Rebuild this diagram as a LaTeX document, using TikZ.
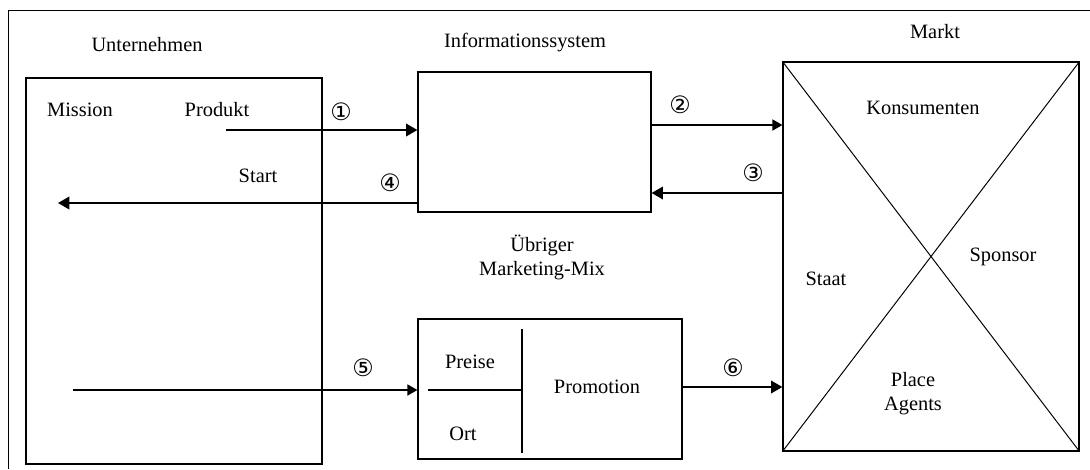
\documentclass[tikz,border=0pt]{standalone}
\usepackage{fontspec}
\setmainfont{Liberation Serif}
\newfontfamily\circfont{DejaVu Sans}
\usetikzlibrary{positioning,arrows}
\tikzset{%
box/.style={draw,rectangle,inner sep=0pt,line width=0.9pt},
flow/.style={-triangle 60,line width=1.2pt},
lbl/.style={font=\fontsize{14.5}{17}\selectfont,inner sep=1pt},
num/.style={font=\circfont\fontsize{17}{19}\selectfont,inner sep=1pt},
divider/.style={line width=0.9pt}
}

\begin{document}
\begin{tikzpicture}[x=0.025cm,y=-0.025cm]
  \useasboundingbox (0,0) rectangle (1090,469);

  % frame
  \draw[line width=0.7pt] (8,469) |- (1090,10);

  % boxes
  \node[box,minimum width=7.4cm,minimum height=9.65cm] (unt) at (174,271) {};
  \node[box,minimum width=5.825cm,minimum height=3.5cm] (info) at (534.5,142) {};
  \node[box,minimum width=6.6cm,minimum height=3.5cm] (mix) at (550,389) {};
  \node[box,minimum width=7.4cm,minimum height=9.725cm] (markt) at (931,256.5) {};
  \draw[line width=0.7pt] (markt.north west) -- (markt.south east);
  \draw[line width=0.7pt] (markt.north east) -- (markt.south west);

  % titles
  \node[lbl] (untT) at (147,45) {Unternehmen};
  \node[lbl] (infoT) at (525,43) {Informationssystem};
  \node[lbl] (marktT) at (935,32) {Markt};
  \node[lbl] (mission) at (80,110) {Mission};
  \node[lbl] (produkt) at (217,110) {Produkt};
  \node[lbl] (start) at (258,176) {Start};
  \node[lbl,align=center] (uebrig) at (542,257) {Übriger\\Marketing-Mix};

  % market segments
  \node[lbl] (kons) at (923,108) {Konsumenten};
  \node[lbl] (sponsor) at (1003,257) {Sponsor};
  \node[lbl] (staat) at (826,279) {Staat};
  \node[lbl,align=center] (place) at (913,394) {Place\\Agents};

  % marketing mix
  \coordinate (divtop) at (522,329);
  \coordinate (divbot) at (522,453);
  \coordinate (divleft) at (428,390);
  \draw[divider] (divtop) -- (divbot);
  \draw[divider] (divleft) -- (divleft -| divtop);
  \node[lbl] (preise) at (470,362) {Preise};
  \node[lbl] (ort) at (463,434) {Ort};
  \node[lbl] (promo) at (597,387) {Promotion};

  % flows
  \coordinate (p1) at (226,130);
  \coordinate (p4) at (58,203);
  \coordinate (p5) at (73,390);
  \draw[flow] (p1) -- (info.west |- p1);
  \draw[flow,line width=0.9pt] (info.east |- 0,125) -- (markt.west |- 0,125);
  \draw[flow] (markt.west |- 0,193) -- (info.east |- 0,193);
  \draw[flow] (info.west |- p4) -- (p4);
  \draw[flow,line width=0.9pt] (p5) -- (mix.west |- p5);
  \draw[flow] (mix.east |- 0,387) -- (markt.west |- 0,387);

  \node[num] (n1) at (341,112) {①};
  \node[num] (n2) at (680,105) {②};
  \node[num] (n3) at (753,173) {③};
  \node[num] (n4) at (390,183) {④};
  \node[num] (n5) at (363,368) {⑤};
  \node[num] (n6) at (733,368) {⑥};
\end{tikzpicture}
\end{document}
